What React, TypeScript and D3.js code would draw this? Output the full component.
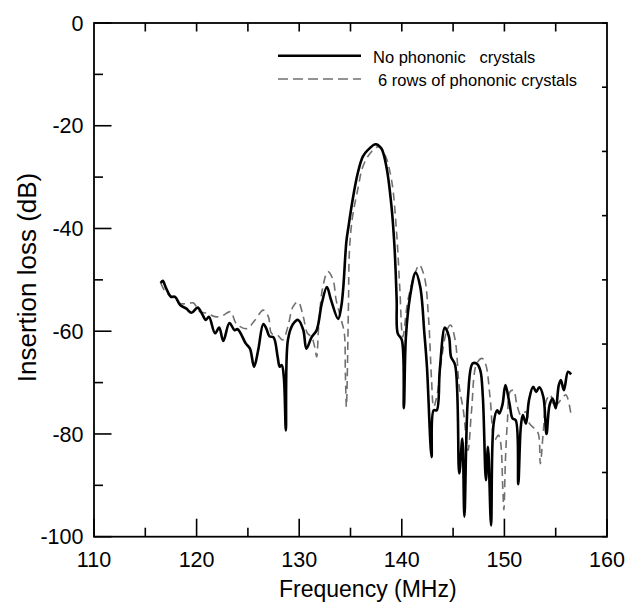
import React from "react";
import * as d3 from "d3";

const solidFreq = [116.5,116.7,117.0,117.5,117.9,118.4,119.0,119.5,120.1,120.5,120.9,121.2,121.8,122.2,122.6,123.2,123.7,124.0,124.8,125.2,125.6,126.0,126.5,126.8,127.1,127.5,127.9,128.1,128.3,128.5,128.7,128.9,129.4,129.9,130.4,130.7,131.2,131.7,132.2,132.7,133.1,133.8,134.1,134.3,134.6,134.8,135.2,135.7,136.2,136.7,137.46,138.0,138.5,139.0,139.3,139.5,139.6,140.0,140.2,140.4,140.8,141.35,141.8,142.2,142.45,142.9,143.1,143.4,143.7,144.2,144.6,144.8,145.2,145.6,145.9,146.1,146.45,146.9,147.3,147.65,147.9,148.2,148.4,148.7,148.95,149.3,149.5,149.8,150.1,150.5,150.8,151.1,151.35,151.6,151.8,152.1,152.4,152.8,153.1,153.4,153.8,154.1,154.4,154.7,155.0,155.3,155.5,155.8,156.2,156.5];
const solidLoss = [-50.6,-50.2,-51.5,-53.3,-53.3,-54.9,-55.6,-56.4,-55.4,-56.5,-57.8,-57.2,-60.4,-59.3,-61.9,-58.4,-59.8,-59.6,-62.4,-63.4,-66.9,-63.7,-58.6,-59.5,-61.0,-61.2,-65.0,-66.9,-66.6,-68.9,-79.3,-61.7,-58.6,-57.8,-59.8,-63.4,-61.2,-59.8,-54.6,-51.4,-53.9,-57.6,-55.2,-51.4,-42.5,-39.7,-34.5,-29.3,-26.0,-24.7,-23.6,-24.4,-28.0,-35.8,-44.0,-53.9,-60.4,-61.7,-75.0,-61.1,-53.3,-48.6,-51.4,-60.4,-66.9,-84.5,-75.4,-75.4,-67.6,-59.3,-61.1,-65.0,-66.6,-87.7,-80.9,-96.1,-72.8,-66.3,-66.3,-67.6,-72.8,-89.0,-82.5,-97.8,-78.0,-75.4,-76.0,-74.4,-70.5,-74.1,-77.0,-77.3,-89.8,-78.6,-76.3,-78.0,-73.4,-70.8,-71.8,-70.9,-72.8,-80.0,-74.4,-73.1,-75.0,-70.5,-69.5,-71.5,-67.9,-68.4];

const dashFreq = [116.5,117.0,117.4,117.9,118.4,119.2,119.7,120.3,121.0,121.9,122.6,123.3,123.9,124.9,125.7,126.5,127.0,127.3,127.9,128.4,128.9,129.4,129.9,130.4,130.8,131.2,131.5,131.7,131.9,132.3,132.8,133.3,133.6,134.1,134.4,134.5,134.6,134.8,134.9,135.2,135.7,136.2,136.9,137.7,138.3,139.0,139.5,139.8,140.1,140.6,141.3,141.7,142.2,142.6,142.9,143.1,143.4,143.9,144.4,144.75,145.2,145.6,146.0,146.45,146.8,147.3,147.85,148.2,148.6,149.05,149.4,149.6,149.85,149.95,150.1,150.3,150.55,150.9,151.2,151.6,152.1,152.45,152.9,153.3,153.5,153.8,154.1,154.5,154.8,155.2,155.6,156.0,156.5];
const dashLoss = [-50.6,-52.5,-53.0,-53.6,-54.6,-54.6,-54.5,-56.2,-56.5,-57.2,-56.9,-56.2,-58.6,-59.5,-57.8,-55.9,-57.2,-60.4,-60.8,-61.7,-59.1,-55.2,-54.3,-57.2,-60.4,-61.1,-63.0,-65.0,-59.1,-51.4,-48.4,-50.0,-53.9,-57.8,-60.4,-68.2,-74.7,-55.0,-44.2,-37.7,-32.5,-28.0,-25.4,-24.1,-25.4,-30.6,-41.0,-51.5,-61.1,-53.9,-48.7,-47.1,-49.4,-57.2,-69.5,-74.7,-72.8,-65.0,-59.8,-58.8,-61.7,-70.8,-75.4,-83.2,-75.4,-66.3,-65.3,-66.6,-72.8,-81.2,-80.2,-81.2,-90.9,-94.8,-85.1,-77.3,-71.8,-71.5,-74.1,-76.3,-75.7,-78.0,-78.9,-79.9,-85.8,-79.3,-73.4,-72.4,-74.7,-74.1,-73.1,-72.4,-76.3];

const xTickValues = [110, 120, 130, 140, 150, 160];
const xMinorValues = [115, 125, 135, 145, 155];
const yTickValues = [0, -20, -40, -60, -80, -100];
const yMinorValues = [-10, -30, -50, -70, -90];
const legendLabels = ["No phononic   crystals", " 6 rows of phononic crystals"];
const xTitle = "Frequency (MHz)";
const yTitle = "Insertion loss (dB)";

const FONT = "'Liberation Sans', Arial, Helvetica, sans-serif";

export default function App() {
  const left = 94, right = 607, top = 23, bottom = 536.7;
  const x = d3.scaleLinear().domain([110, 160]).range([left, right]);
  const y = d3.scaleLinear().domain([-100, 0]).range([bottom, top]);
  const yR = d3.scaleLinear().domain([0, 8]).range([bottom, top]);

  const solid = solidFreq.map((f, i) => [f, solidLoss[i]] as [number, number]);
  const dashed = dashFreq.map((f, i) => [f, dashLoss[i]] as [number, number]);
  const line = d3
    .line<[number, number]>()
    .x((d) => x(d[0]))
    .y((d) => y(d[1]))
    .curve(d3.curveCatmullRom.alpha(0.5));

  const topTicks = d3.range(115, 160, 5);
  const rightTicks = yR.ticks(8);

  return (
    <svg
      width={628}
      height={603}
      style={{ position: "absolute", left: 0, top: 0, display: "block", background: "#fff" }}
    >
      <rect x={0} y={0} width={628} height={603} fill="#fff" />
      {/* curves */}
      <path d={line(dashed) || ""} fill="none" stroke="#707070" strokeWidth={1.6} strokeDasharray="8,5" />
      <path d={line(solid) || ""} fill="none" stroke="#000" strokeWidth={2.6} strokeLinejoin="round" />

      {/* frame */}
      <rect x={left} y={top} width={right - left} height={bottom - top} fill="none" stroke="#000" strokeWidth={1.8} />

      {/* bottom ticks */}
      {xTickValues.map((v) => (
        <line key={"xb" + v} x1={x(v)} x2={x(v)} y1={bottom} y2={bottom - 18} stroke="#000" strokeWidth={1.6} />
      ))}
      {xMinorValues.map((v) => (
        <line key={"xm" + v} x1={x(v)} x2={x(v)} y1={bottom} y2={bottom - 9} stroke="#000" strokeWidth={1.6} />
      ))}
      {/* top ticks */}
      {topTicks.map((v) => (
        <line key={"xt" + v} x1={x(v)} x2={x(v)} y1={top} y2={top + 8.5} stroke="#000" strokeWidth={1.6} />
      ))}
      {/* left ticks */}
      {yTickValues.map((v) => (
        <line key={"yl" + v} x1={left} x2={left + 17.5} y1={y(v)} y2={y(v)} stroke="#000" strokeWidth={1.6} />
      ))}
      {yMinorValues.map((v) => (
        <line key={"ym" + v} x1={left} x2={left + 9} y1={y(v)} y2={y(v)} stroke="#000" strokeWidth={1.6} />
      ))}
      {/* right ticks */}
      {rightTicks.map((v) => (
        <line key={"yr" + v} x1={right} x2={right - 5} y1={yR(v)} y2={yR(v)} stroke="#000" strokeWidth={1.6} />
      ))}

      {/* tick labels */}
      {xTickValues.map((v) => (
        <text key={"xl" + v} x={x(v)} y={567} textAnchor="middle" fontFamily={FONT} fontSize={21.5} fill="#000">
          {v}
        </text>
      ))}
      {yTickValues.map((v) => (
        <text key={"yll" + v} x={83.5} y={y(v) + 7.6} textAnchor="end" fontFamily={FONT} fontSize={21.5} fill="#000">
          {v}
        </text>
      ))}

      {/* axis titles */}
      <text x={279} y={597} textAnchor="start" fontFamily={FONT} fontSize={23} fill="#000">
        {xTitle}
      </text>
      <text
        transform={`translate(36,${(163 + 392) / 2}) rotate(-90)`}
        textAnchor="middle"
        fontFamily={FONT}
        fontSize={26}
        fill="#000"
      >
        {yTitle}
      </text>

      {/* legend */}
      <line x1={278} x2={361} y1={55.7} y2={55.7} stroke="#000" strokeWidth={2.6} />
      <line x1={278} x2={361} y1={79} y2={79} stroke="#707070" strokeWidth={1.6} strokeDasharray="10,5" />
      <text x={373} y={63.3} fontFamily={FONT} fontSize={16.5} fill="#000" style={{ whiteSpace: "pre" }}>
        {legendLabels[0]}
      </text>
      <text x={373.5} y={86} fontFamily={FONT} fontSize={16.5} fill="#000" style={{ whiteSpace: "pre" }}>
        {legendLabels[1]}
      </text>
    </svg>
  );
}
